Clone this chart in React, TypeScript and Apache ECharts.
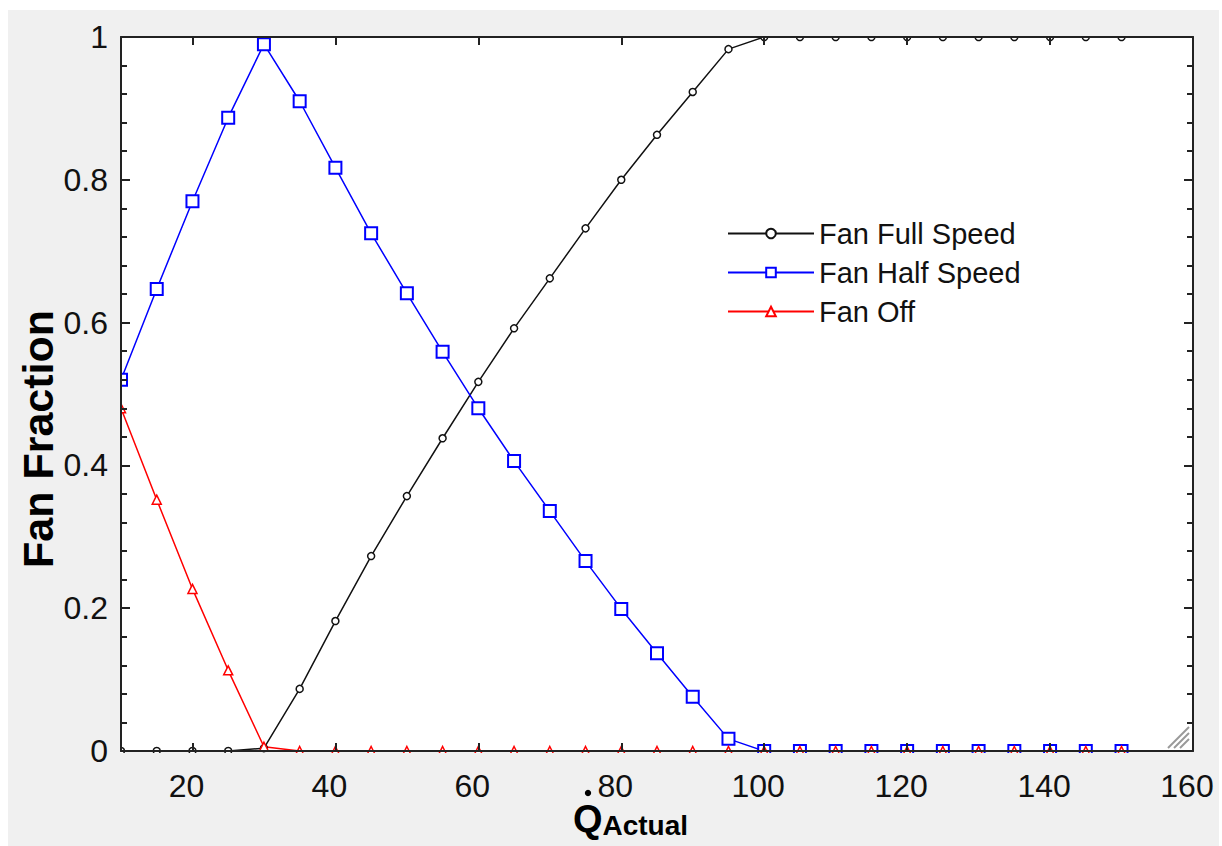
import React, { useEffect, useRef } from "react";
import * as echarts from "echarts";

const xValues = [10, 15, 20, 25, 30, 35, 40, 45, 50, 55, 60, 65, 70, 75, 80, 85, 90, 95, 100, 105, 110, 115, 120, 125, 130, 135, 140, 145, 150];
const fanFullSpeed = [0, 0, 0, 0, 0.004, 0.087, 0.182, 0.273, 0.357, 0.438, 0.517, 0.592, 0.662, 0.732, 0.8, 0.863, 0.923, 0.983, 1, 1, 1, 1, 1, 1, 1, 1, 1, 1, 1];
const fanHalfSpeed = [0.52, 0.647, 0.77, 0.887, 0.99, 0.91, 0.817, 0.725, 0.641, 0.559, 0.48, 0.406, 0.336, 0.266, 0.199, 0.137, 0.076, 0.017, 0, 0, 0, 0, 0, 0, 0, 0, 0, 0, 0];
const fanOff = [0.48, 0.352, 0.227, 0.113, 0.006, 0, 0, 0, 0, 0, 0, 0, 0, 0, 0, 0, 0, 0, 0, 0, 0, 0, 0, 0, 0, 0, 0, 0, 0];
const xTickValues = [20, 40, 60, 80, 100, 120, 140, 160];
const seriesNames = ["Fan Full Speed", "Fan Half Speed", "Fan Off"];

const FONT = "Arial, 'Liberation Sans', sans-serif";
const BG = "#f0f0f0";
const AX = "#222";

export default function App() {
  const ref = useRef<HTMLDivElement>(null);
  useEffect(() => {
    document.body.style.margin = "0";
    if (!ref.current) return;
    const chart = echarts.init(ref.current, undefined, { renderer: "svg" });
    const pair = (ys: number[]) => xValues.map((x, i) => [x, ys[i]]);
    const axisLine = { show: true, onZero: false, lineStyle: { color: AX, width: 2 } };
    const tickStyle = { color: AX, width: 2 };
    const option: any = {
      animation: false,
      backgroundColor: BG,
      textStyle: { fontFamily: FONT },
      grid: {
        left: 113,
        top: 27,
        right: 26,
        bottom: 95,
        outerBoundsMode: "none",
        containLabel: false,
        show: true,
        backgroundColor: "#fff",
        borderWidth: 0,
      },
      legend: {
        orient: "vertical",
        left: 719,
        top: 209,
        padding: 0,
        itemWidth: 86,
        itemHeight: 12,
        itemGap: 10,
        textStyle: { fontSize: 29, lineHeight: 28, color: "#111", fontFamily: FONT },
        data: seriesNames,
      },
      xAxis: [
        {
          type: "value",
          min: 10,
          max: 160,
          position: "bottom",
          z: 5,
          axisLine,
          axisTick: { show: true, inside: true, length: 8, customValues: xTickValues, lineStyle: tickStyle },
          axisLabel: { customValues: xTickValues, fontSize: 32, color: "#111", margin: 19, padding: [0, 12, 0, 0], fontFamily: FONT },
          splitLine: { show: false },
          name: "{q|Q}{s|Actual}",
          nameLocation: "middle",
          nameGap: 48,
          nameMoveOverlap: false,
          nameTextStyle: {
            padding: [0, 53, 0, 0],
            rich: {
              q: { fontSize: 38, fontWeight: "bold", fontFamily: FONT, color: "#000", lineHeight: 40 },
              s: { fontSize: 28, fontWeight: "bold", fontFamily: FONT, color: "#000", lineHeight: 15, verticalAlign: "bottom" },
            },
          },
        },
        {
          type: "value",
          min: 10,
          max: 160,
          position: "top",
          z: 5,
          axisLine,
          axisTick: { show: true, inside: true, length: 8, customValues: xTickValues, lineStyle: tickStyle },
          axisLabel: { show: false },
          splitLine: { show: false },
        },
      ],
      yAxis: [
        {
          type: "value",
          min: 0,
          max: 1,
          interval: 0.2,
          position: "left",
          z: 5,
          axisLine,
          axisTick: { show: true, inside: true, length: 9, lineStyle: tickStyle },
          minorTick: { show: true, splitNumber: 5, length: 6, lineStyle: tickStyle },
          axisLabel: { fontSize: 32, color: "#111", margin: 13, fontFamily: FONT },
          splitLine: { show: false },
          name: "Fan Fraction",
          nameLocation: "middle",
          nameGap: 62,
          nameMoveOverlap: false,
          nameTextStyle: { fontSize: 43, fontWeight: "bold", color: "#000", fontFamily: FONT, padding: [0, 90, 0, 0] },
        },
        {
          type: "value",
          min: 0,
          max: 1,
          interval: 0.2,
          position: "right",
          z: 5,
          axisLine,
          axisTick: { show: true, inside: true, length: 9, lineStyle: tickStyle },
          minorTick: { show: true, splitNumber: 5, length: 6, lineStyle: tickStyle },
          axisLabel: { show: false },
          splitLine: { show: false },
        },
      ],
      series: [
        {
          name: seriesNames[0],
          type: "line",
          data: pair(fanFullSpeed),
          symbol: "circle",
          symbolSize: 7,
          lineStyle: { color: "#111", width: 1.5 },
          itemStyle: { color: "#fff", borderColor: "#111", borderWidth: 1.5 },
        },
        {
          name: seriesNames[1],
          type: "line",
          data: pair(fanHalfSpeed),
          symbol: "rect",
          symbolSize: 12,
          lineStyle: { color: "#0000ff", width: 1.5 },
          itemStyle: { color: "#fff", borderColor: "#0000ff", borderWidth: 2 },
        },
        {
          name: seriesNames[2],
          type: "line",
          data: pair(fanOff),
          symbol: "triangle",
          symbolSize: 9,
          lineStyle: { color: "#ff0000", width: 1.5 },
          itemStyle: { color: "#fff", borderColor: "#ff0000", borderWidth: 1.5 },
        },
      ],
      graphic: {
        z: 10,
        elements: [
          { type: "rect", z: 10, silent: true, shape: { x: 100, y: 743, width: 1100, height: 10 }, style: { fill: BG } },
          { type: "rect", z: 10, silent: true, shape: { x: 100, y: 12, width: 1100, height: 14 }, style: { fill: BG } },
          { type: "rect", z: 10, silent: true, shape: { x: 102, y: 12, width: 10, height: 741 }, style: { fill: BG } },
          { type: "circle", z: 11, shape: { cx: 580, cy: 783, r: 3.2 }, style: { fill: "#000" } },
          { type: "line", z: 11, shape: { x1: 1160, y1: 738, x2: 1181, y2: 717 }, style: { stroke: "#999", lineWidth: 2 } },
          { type: "line", z: 11, shape: { x1: 1166, y1: 738, x2: 1181, y2: 723 }, style: { stroke: "#999", lineWidth: 2 } },
          { type: "line", z: 11, shape: { x1: 1172, y1: 738, x2: 1181, y2: 729 }, style: { stroke: "#999", lineWidth: 2 } },
        ],
      },
    };
    chart.setOption(option);
    return () => chart.dispose();
  }, []);
  return (
    <div style={{ position: "relative", width: 1222, height: 846, background: "#fff" }}>
      <div ref={ref} style={{ position: "absolute", left: 8, top: 10, width: 1211, height: 836 }} />
    </div>
  );
}
